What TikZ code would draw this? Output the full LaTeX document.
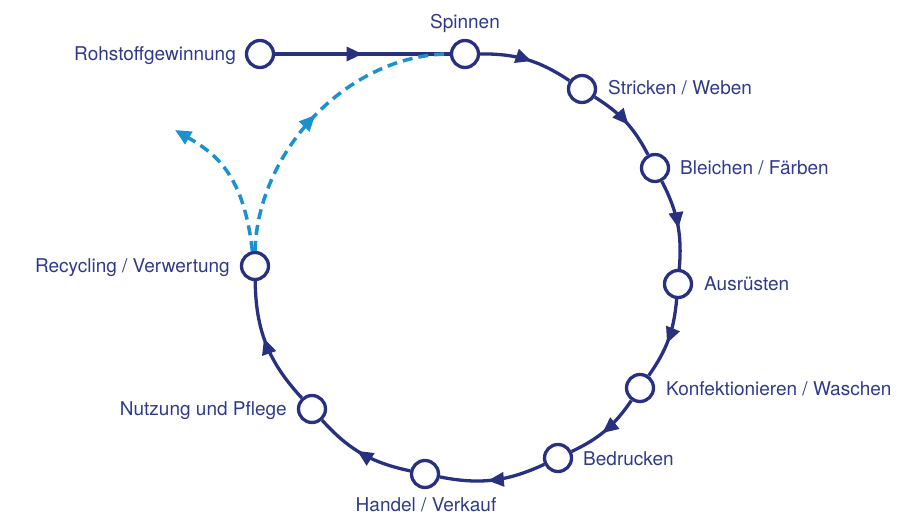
\documentclass[tikz,border=0pt]{standalone}
\usepackage{fontspec}
\setmainfont{TeX Gyre Heros}
\usetikzlibrary{arrows.meta,decorations.markings}
\definecolor{navy}{RGB}{40,48,128}
\definecolor{navytext}{RGB}{48,58,140}
\definecolor{skyblue}{RGB}{27,145,210}
\begin{document}
\begin{tikzpicture}[x=1pt,y=1pt,
  station/.style={circle, draw=navy, line width=3.3pt, fill=white, minimum size=27pt, inner sep=0pt},
  caption/.style={text=navytext, font=\fontsize{19}{23}\selectfont, inner sep=0pt, text height=0.72em, text depth=0pt, yshift=-3pt},
  flow/.style={draw=navy, line width=3.3pt, postaction={decorate},
    decoration={markings, mark=at position #1 with {\arrow{Triangle[length=16pt,width=14pt]}}}},
  flow/.default=0.55,
  returnpath/.style={draw=skyblue, line width=3.5pt, dash pattern=on 10pt off 6pt},
  returntip/.style={postaction={decorate},
    decoration={markings, mark=at position #1 with {\arrow{Triangle[length=16pt,width=14pt]}}}},
]
\useasboundingbox (0,0) rectangle (910,517);

% stations of the textile chain
\node[station] (rohstoff)   at (260,463) {};
\node[station] (spinnen)    at (465,463) {};
\node[station] (stricken)   at (582,428) {};
\node[station] (bleichen)   at (655,349) {};
\node[station] (ausruesten) at (678,233) {};
\node[station] (konf)       at (640,129) {};
\node[station] (bedrucken)  at (558,59)  {};
\node[station] (handel)     at (425,43)  {};
\node[station] (nutzung)    at (312,108) {};
\node[station] (recycling)  at (255,251) {};

% captions
\node[caption, anchor=east]  (lrohstoff)   at (236,463) {Rohstoffgewinnung};
\node[caption, anchor=center](lspinnen)    at (465,495) {Spinnen};
\node[caption, anchor=west]  (lstricken)   at (608,429) {Stricken / Weben};
\node[caption, anchor=west]  (lbleichen)   at (680,349) {Bleichen / Färben};
\node[caption, anchor=west]  (lausruesten) at (704,233) {Ausrüsten};
\node[caption, anchor=west]  (lkonf)       at (666,128) {Konfektionieren / Waschen};
\node[caption, anchor=west]  (lbedrucken)  at (583,58)  {Bedrucken};
\node[caption, anchor=center](lhandel)     at (426,12)  {Handel / Verkauf};
\node[caption, anchor=east]  (lnutzung)    at (287,108) {Nutzung und Pflege};
\node[caption, anchor=east]  (lrecycling)  at (230,251) {Recycling / Verwertung};

% main flow
\draw[flow=0.5] (rohstoff) -- (spinnen);
\draw[flow] (spinnen)    to[bend left=17] (stricken);
\draw[flow] (stricken)   to[bend left=15] (bleichen);
\draw[flow] (bleichen)   to[bend left=16] (ausruesten);
\draw[flow] (ausruesten) to[bend left=15] (konf);
\draw[flow] (konf)       to[bend left=15] (bedrucken);
\draw[flow] (bedrucken)  to[bend left=18] (handel);
\draw[flow] (handel)     to[bend left=18] (nutzung);
\draw[flow] (nutzung)    to[bend left=21] (recycling);

% return paths after use
\draw[returnpath, returntip=0.5] (recycling.north) .. controls (258,368) and (350,463) .. (spinnen.west);
\coordinate (exit) at (175,387);
\draw[returnpath, -{Triangle[length=16pt,width=14pt]}] (recycling.100) .. controls (244,340) and (218,362) .. (exit);
\end{tikzpicture}
\end{document}
